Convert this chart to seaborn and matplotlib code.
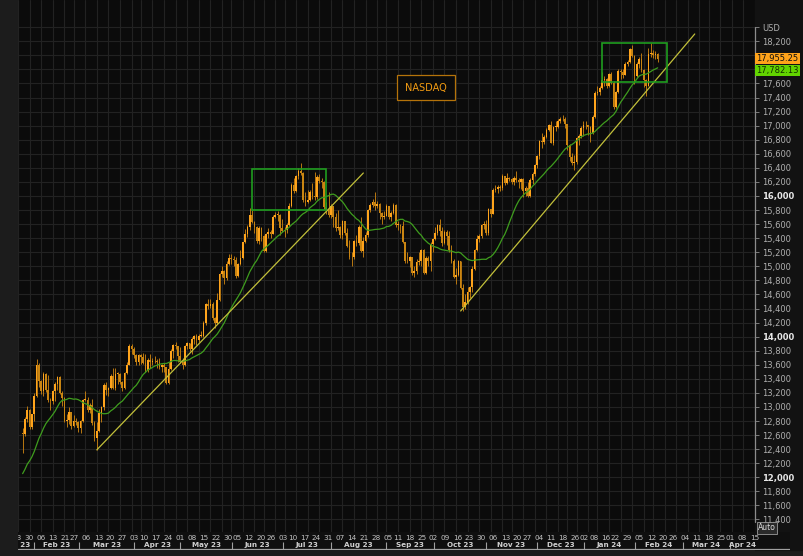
import numpy as np
import pandas as pd
import matplotlib
matplotlib.use('Agg')
import matplotlib.pyplot as plt
import matplotlib.transforms as mtransforms
from matplotlib.patches import Rectangle
import seaborn as sns

# trading calendar (exchange holidays skipped on the time axis)
holidays = ['2023-02-20', '2023-04-07', '2023-05-29', '2023-06-19', '2023-07-04',
            '2023-09-04', '2023-11-23', '2023-12-25', '2024-01-01', '2024-01-15',
            '2024-02-19', '2024-03-29']
first_bar = '2023-01-25'

# closes before the first bar, only used to seed the 20 day average
warmup_close = [11620, 11480, 11780, 11740, 11660, 11715, 11540, 11840, 11910, 11980,
                12185, 12260, 12340, 12355, 12200, 12085, 12420, 12690, 12630]

# daily closes, one row per week
close = [
    12610, 12835, 12960,
    12710, 12895, 13155, 13595, 13365,
    13225, 13465, 13245, 13100, 13085,
    13225, 13320, 13420, 13205, 13125,
    12805, 12810, 12925, 12735,
    12795, 12780, 12695, 12800, 13105,
    13105, 12955, 13025, 12765, 12560,
    12660, 12915, 13000, 13310, 13235,
    13265, 13445, 13265, 13470, 13470,
    13355, 13265, 13490, 13600, 13870,
    13820, 13745, 13645, 13735,
    13715, 13630, 13520, 13665, 13645,
    13655, 13650, 13645, 13565, 13600,
    13565, 13335, 13540, 13800, 13885,
    13860, 13725, 13640, 13590, 13865,
    13905, 13825, 13970, 14005, 13955,
    14010, 14015, 14190, 14460, 14430,
    14470, 14260, 14190, 14525, 14885,
    14930, 14830, 15040, 15120,
    15110, 15095, 14860, 15035, 15120,
    15340, 15465, 15555, 15735, 15635,
    15560, 15360, 15550, 15430,
    15225, 15460, 15495, 15465, 15705,
    15730, 15735, 15550, 15505,
    15510, 15590, 15855, 16160, 16070,
    16285, 16355, 16330, 15950, 15915,
    15950, 16050, 15995, 15980, 16275,
    16220, 16200, 15845, 15820, 15735,
    15855, 15700, 15540, 15555, 15450,
    15640, 15470, 15290, 15130, 15130,
    15365, 15330, 15560, 15220, 15365,
    15445, 15795, 15875, 15910, 15860,
    15890, 15760, 15695, 15720,
    15855, 15700, 15765, 15865, 15590,
    15590, 15570, 15345, 15070, 15075,
    15130, 14905, 14935, 15055, 15075,
    15230, 14910, 15125, 15080, 15320,
    15390, 15480, 15585, 15505, 15330,
    15490, 15430, 15230, 15075, 14855,
    14880, 15075, 14695, 14415, 14490,
    14630, 14705, 14960, 15235, 15395,
    15430, 15585, 15605, 15470, 15810,
    15750, 16080, 16095, 16130, 16110,
    16285, 16185, 16250, 16235,
    16205, 16260, 16230, 16195, 16240,
    16070, 16110, 16000, 16230, 16315,
    16445, 16570, 16775, 16765, 16840,
    16935, 17015, 16760, 16985, 16985,
    17070, 17100, 17090, 17020,
    16725, 16550, 16465, 16485,
    16820, 16860, 16965, 17005, 17005,
    16985, 16890, 17125, 17470,
    17475, 17535, 17645, 17665, 17570,
    17730, 17610, 17270, 17480, 17775,
    17765, 17725, 17875, 17905, 18085,
    17990, 17710, 17875, 17955, 17795,
    17650, 17570, 18025, 18030,
    18005, 18015, 17955.25,
]

high = [
    12700, 12860, 13010,
    12965, 12905, 13200, 13680, 13620,
    13380, 13500, 13480, 13450, 13130,
    13240, 13350, 13440, 13440, 13220,
    13140, 12900, 13000, 12930,
    12880, 12850, 12800, 12815, 13120,
    13220, 13140, 13060, 13110, 12800,
    12780, 12970, 13020, 13340, 13350,
    13290, 13470, 13560, 13560, 13500,
    13490, 13370, 13500, 13640, 13890,
    13900, 13850, 13750, 13750,
    13760, 13770, 13760, 13690, 13750,
    13690, 13730, 13680, 13690, 13610,
    13630, 13570, 13640, 13820, 13900,
    13930, 13870, 13850, 13690, 13880,
    13930, 13910, 14000, 14030, 14040,
    14040, 14080, 14220, 14480, 14540,
    14530, 14490, 14280, 14620, 14900,
    15010, 14950, 15070, 15180,
    15170, 15150, 15130, 15050, 15230,
    15350, 15530, 15590, 15835, 15800,
    15650, 15580, 15570, 15560,
    15450, 15480, 15540, 15520, 15730,
    15770, 15780, 15740, 15680,
    15560, 15620, 15900, 16190, 16250,
    16300, 16400, 16470, 16340, 16060,
    16080, 16090, 16190, 16340, 16300,
    16310, 16260, 16210, 15920, 16050,
    15880, 15860, 15760, 15800, 15570,
    15660, 15650, 15540, 15370, 15200,
    15380, 15450, 15590, 15700, 15420,
    15490, 15810, 15900, 15960, 16060,
    15930, 15900, 15770, 15790,
    15890, 15860, 15790, 15900, 15880,
    15650, 15600, 15640, 15350, 15200,
    15150, 15130, 15000, 15100, 15200,
    15250, 15240, 15140, 15150, 15350,
    15400, 15560, 15600, 15680, 15560,
    15510, 15520, 15500, 15310, 15100,
    14970, 15090, 15080, 14750, 14600,
    14710, 14720, 15000, 15250, 15440,
    15460, 15600, 15640, 15660, 15830,
    15820, 16110, 16150, 16150, 16160,
    16310, 16290, 16320, 16270,
    16260, 16280, 16360, 16250, 16260,
    16250, 16140, 16200, 16260, 16340,
    16460, 16580, 16800, 16890, 16870,
    16970, 17030, 17060, 17000, 17060,
    17100, 17120, 17150, 17130,
    17030, 16740, 16610, 16580,
    16840, 16880, 16990, 17060, 17070,
    17010, 16990, 17150, 17490,
    17560, 17560, 17760, 17700, 17680,
    17750, 17760, 17640, 17500, 17800,
    17810, 17800, 17900, 17930, 18110,
    18150, 18000, 17900, 17980, 18040,
    17800, 17660, 18100, 18180,
    18080, 18060, 18030,
]

low = [
    12345, 12590, 12790,
    12690, 12680, 12800, 13140, 13280,
    13180, 13150, 13210, 13070, 12960,
    13040, 13080, 13240, 13180, 13010,
    12790, 12720, 12760, 12680,
    12720, 12740, 12640, 12630, 12790,
    13080, 12930, 12920, 12750, 12510,
    12395, 12650, 12780, 12960, 13170,
    13150, 13250, 13250, 13240, 13330,
    13320, 13220, 13260, 13470, 13590,
    13760, 13700, 13590, 13600,
    13610, 13610, 13500, 13500, 13560,
    13590, 13620, 13560, 13540, 13500,
    13500, 13320, 13320, 13520, 13700,
    13820, 13640, 13620, 13540, 13580,
    13830, 13800, 13760, 13900, 13880,
    13930, 13990, 13990, 14160, 14390,
    14410, 14240, 14130, 14180, 14510,
    14850, 14750, 14800, 15020,
    15040, 15000, 14840, 14850, 15020,
    15100, 15330, 15420, 15510, 15610,
    15480, 15330, 15320, 15360,
    15200, 15210, 15400, 15400, 15460,
    15690, 15650, 15440, 15490,
    15420, 15480, 15580, 15840, 16040,
    16050, 16240, 16300, 15920, 15860,
    15900, 15930, 15960, 15940, 15960,
    16180, 16120, 15820, 15740, 15700,
    15690, 15560, 15500, 15520, 15400,
    15390, 15450, 15270, 15110, 15000,
    15100, 15290, 15310, 15200, 15130,
    15350, 15420, 15770, 15850, 15800,
    15830, 15680, 15600, 15670,
    15710, 15680, 15650, 15740, 15560,
    15520, 15470, 15330, 15050, 15050,
    14990, 14880, 14850, 14890, 15020,
    15000, 14890, 14890, 15000, 14930,
    15200, 15370, 15450, 15430, 15290,
    15320, 15300, 15200, 15050, 14840,
    14750, 14860, 14680, 14370, 14390,
    14470, 14550, 14640, 14950, 15220,
    15350, 15400, 15530, 15450, 15440,
    15700, 15740, 16050, 16040, 16070,
    16080, 16150, 16170, 16210,
    16170, 16150, 16200, 16110, 16100,
    15980, 16000, 15980, 15990, 16170,
    16290, 16400, 16520, 16680, 16740,
    16820, 16920, 16750, 16730, 16920,
    16970, 17040, 17060, 16960,
    16650, 16500, 16440, 16370,
    16460, 16720, 16830, 16850, 16950,
    16870, 16770, 16880, 17110,
    17430, 17440, 17520, 17560, 17540,
    17550, 17590, 17240, 17250, 17470,
    17660, 17680, 17720, 17850, 17890,
    17970, 17590, 17690, 17820, 17760,
    17550, 17420, 17560, 17980,
    17960, 17950, 17910,
]

last_price = 17955.25
last_ma = 17782.13

# drawn annotations: (date, price) pairs
trend_1 = [('2023-03-13', 12390), ('2023-08-25', 16327)]
trend_2 = [('2023-10-25', 14365), ('2024-03-21', 18304)]
box_1 = [('2023-06-16', 15801), ('2023-08-03', 16384)]
box_2 = [('2024-01-24', 17622), ('2024-03-05', 18176)]
label_at = ('2023-10-04', 17540)

# ---------------------------------------------------------------
days = pd.bdate_range('2023-01-23', '2024-04-30', freq='C', holidays=holidays)
pos = {d.strftime('%Y-%m-%d'): i for i, d in enumerate(days)}

df = pd.DataFrame({'close': close, 'high': high, 'low': low})
df['x'] = pos[first_bar] + np.arange(len(df))
df['open'] = [warmup_close[-1]] + close[:-1]
all_close = pd.Series(warmup_close + close, dtype=float)
df['ma20'] = all_close.rolling(20).mean().iloc[len(warmup_close):].to_numpy()

sns.set_theme(style='dark')
plt.rcParams['font.family'] = ['DejaVu Sans']

W, H = 804, 556
def fbox(x0, y0, x1, y1):
    return [x0 / W, 1 - y1 / H, (x1 - x0) / W, (y1 - y0) / H]

fig = plt.figure(figsize=(W / 100, H / 100), dpi=100, facecolor='#1c1c1c')
fig.patches.append(Rectangle((755 / W, 1 - 550 / H), 49 / W, 550 / H,
                             transform=fig.transFigure, color='#121212', zorder=-1))
ax = fig.add_axes(fbox(18, 0, 755, 532), facecolor='#0b0b0b')
axd = fig.add_axes(fbox(18, 532, 790, 550), facecolor='#0f0f0f')

# pixel scale of the original (Jan 30 2023 sits at x=29px, 2.394px per day)
px_day = 2.394
ref = pos['2023-01-30']
ax_end = ref + 726 / px_day
ax.set_xlim(ref - 11 / px_day, ax_end)
axd.set_xlim(ref - 11 / px_day, ref + 761 / px_day)
ax.set_ylim(16000 - 336 * 14.22, 16000 + 196 * 14.22)
axd.set_ylim(0, 1)

# grid: weekly verticals, 200 pt horizontals
week_id = days.to_period('W')
week_starts = [i for i in range(len(days)) if i == 0 or week_id[i] != week_id[i - 1]]
month_id = days.to_period('M')
month_starts = [i for i in range(len(days)) if i == 0 or month_id[i] != month_id[i - 1]]

yt = list(range(11400, 18401, 200))
hidden = (18000, 17800)  # sit under the price tags
ax.set_xticks(week_starts)
ax.set_yticks(yt)
ax.grid(True, color='#222222', lw=0.8)
ax.tick_params(axis='x', length=0, labelbottom=False)
ax.yaxis.tick_right()
ylabels = ['USD' if v == 18400 else ('' if v in hidden else f'{v:,}') for v in yt]
ax.set_yticklabels(ylabels)
ax.tick_params(axis='y', length=3, width=0.6, color='#8c8c8c', pad=2,
               labelsize=6, labelcolor='#b0b0b0')
for t, v in zip(ax.get_yticklabels(), yt):
    if v % 2000 == 0:
        t.set_fontweight('bold')
        t.set_color('#e8e8e8')
for s in ax.spines.values():
    s.set_visible(False)
ax.plot([1, 1], [10 / 532, 505 / 532], transform=ax.transAxes, color='#8c8c8c',
        lw=0.9, clip_on=False, zorder=6)

# candles
up = df['close'] >= df['open']
body_lo = np.minimum(df['open'], df['close'])
body_h = np.maximum((df['close'] - df['open']).abs(), 8)
ax.vlines(df['x'], df['low'], df['high'], color='#b97811', lw=0.7, zorder=3)
ax.bar(df['x'], body_h, bottom=body_lo, width=0.72, linewidth=0, zorder=3,
       color=np.where(up, '#ffa41c', '#c98512'))

# 20 day average and drawn trend lines
sns.lineplot(x=df['x'], y=df['ma20'], ax=ax, color='#3f9d1e', lw=0.9, zorder=4)
for tl in (trend_1, trend_2):
    sns.lineplot(x=[pos[d] for d, _ in tl], y=[v for _, v in tl], ax=ax,
                 color='#c2c03a', lw=0.9, zorder=4)
for bx in (box_1, box_2):
    (d0, v0), (d1, v1) = bx
    ax.add_patch(Rectangle((pos[d0], v0), pos[d1] - pos[d0], v1 - v0, fill=False,
                           ec='#1f9d1f', lw=1.2, zorder=5))
ax.set_xlabel('')
ax.set_ylabel('')

ax.text(pos[label_at[0]], label_at[1], 'NASDAQ', color='#f39c12', fontsize=7,
        ha='center', va='center', zorder=6,
        bbox=dict(boxstyle='square,pad=0.8', fc='#0b0b0b', ec='#b5730a', lw=0.9))

# price tags on the axis
tr = mtransforms.blended_transform_factory(ax.transAxes, ax.transData)
ax.text(1.002, last_price, f'{last_price:,.2f}', transform=tr, fontsize=6,
        color='#101010', ha='left', va='center', clip_on=False, zorder=10,
        bbox=dict(boxstyle='square,pad=0.12', fc='#ffa31a', ec='none'))
ax.text(1.002, last_ma, f'{last_ma:,.2f}', transform=tr, fontsize=6,
        color='#103000', ha='left', va='center', clip_on=False, zorder=10,
        bbox=dict(boxstyle='square,pad=0.12', fc='#62d400', ec='none'))

fig.text(767 / W, 1 - 528 / H, 'Auto', fontsize=5.5, color='#dddddd', ha='center',
         va='center', bbox=dict(boxstyle='square,pad=0.15', fc='#2a2a2a', ec='#9a9a9a', lw=0.6))

# date band: week numbers and month names
axd.set_xticks([])
axd.set_yticks([])
for s in axd.spines.values():
    s.set_visible(False)
axd.axhline(0.06, color='#a0a0a0', lw=0.9)
axd.vlines([m for m in month_starts[1:] if m <= ax_end], 0.06, 0.42, color='#a0a0a0', lw=0.8)
for i in week_starts:
    if i > ax_end:
        break
    axd.text(i, 0.68, f'{days[i].day:02d}', ha='center', va='center', fontsize=5.2,
             color='#c4c4c4', clip_on=True)
for k, m0 in enumerate(month_starts):
    m1 = month_starts[k + 1] if k + 1 < len(month_starts) else len(days)
    if m0 > ax_end:
        break
    lab = days[m0].strftime('%b %y')
    if k == 0:
        axd.text(m1 - 1.2, 0.26, lab, ha='right', va='center', fontsize=5.2,
                 fontweight='bold', color='#d0d0d0', clip_on=True)
    else:
        c = (m0 + min(m1, ax_end)) / 2
        axd.text(c, 0.26, lab, ha='center', va='center', fontsize=5.2,
                 fontweight='bold', color='#d0d0d0', clip_on=True)

fig.savefig('out.png', dpi=100, facecolor=fig.get_facecolor())
